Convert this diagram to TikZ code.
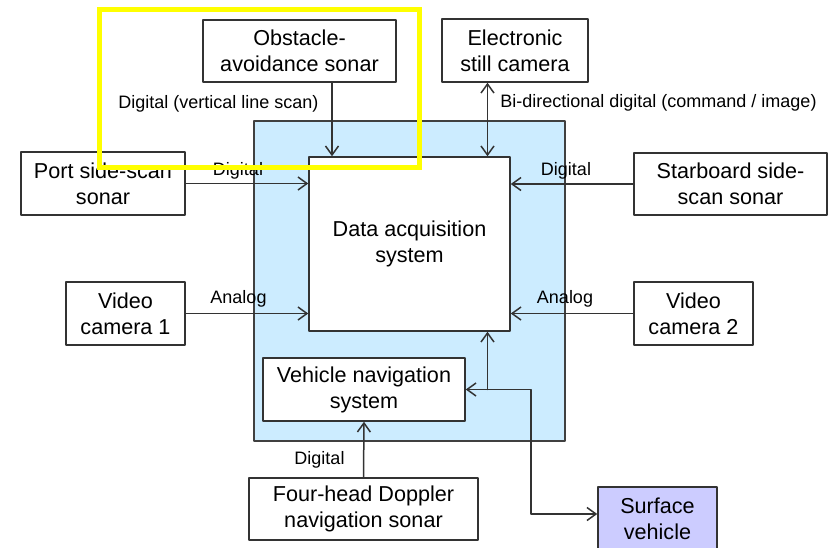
\documentclass[tikz,border=0pt]{standalone}
\usepackage{fontspec}
\setmainfont{Liberation Sans}
\usetikzlibrary{arrows.meta}

\definecolor{panelblue}{RGB}{204,236,255}
\definecolor{surfblue}{RGB}{204,204,255}
\definecolor{marker}{RGB}{255,255,0}

\begin{document}
\begin{tikzpicture}[
  x=0.5pt,y=-0.5pt,
  line cap=round,line join=round,
  box/.style={draw=black!80,line width=0.75pt,fill=white,align=center,
    inner sep=0pt,font=\fontsize{10.8}{13}\selectfont},
  lbl/.style={inner sep=0pt,anchor=base,font=\fontsize{9}{11}\selectfont},
  arr/.style={draw=black!80,line width=0.75pt,
    -{Straight Barb[length=4.5pt,width=6.5pt]}},
  darr/.style={draw=black!80,line width=0.75pt,
    {Straight Barb[length=4.5pt,width=6.5pt]}-{Straight Barb[length=4.5pt,width=6.5pt]}}
]
  \useasboundingbox (0,0) rectangle (831,547);
  \clip (0,0) rectangle (831,547);

  % Blue panel round the acquisition unit
  \draw[draw=black!75,line width=0.75pt,fill=panelblue] (254,121) rectangle (565,441);

  % Boxes
  \node[box,minimum width=100.5pt,minimum height=87pt] (daq) at (409.5,244) {Data acquisition\\system};
  \node[box,minimum width=101pt,minimum height=31.5pt] (nav) at (364,389.5) {Vehicle navigation\\system};
  \node[box,minimum width=96.5pt,minimum height=31pt] (obst) at (299.5,51) {Obstacle-\\avoidance sonar};
  \node[box,minimum width=73pt,minimum height=31.5pt] (still) at (515,50.5) {Electronic\\still camera};
  \node[box,minimum width=82pt,minimum height=31.5pt] (port) at (103,183.5) {Port side-scan\\sonar};
  \node[box,minimum width=96.5pt,minimum height=31pt] (star) at (730.5,184) {Starboard side-\\scan sonar};
  \node[box,minimum width=59.5pt,minimum height=31.5pt] (cam1) at (125.5,313.5) {Video\\camera 1};
  \node[box,minimum width=59.5pt,minimum height=31.5pt] (cam2) at (693.5,313.5) {Video\\camera 2};
  \node[box,minimum width=114.5pt,minimum height=31pt] (dopp) at (363.5,509) {Four-head Doppler\\navigation sonar};
  \node[box,fill=surfblue,minimum width=59.5pt,minimum height=31.5pt] (surf) at (657.5,518.5) {Surface\\vehicle};

  % Connector columns
  \coordinate (obstx) at (332,0);
  \coordinate (busx) at (487.5,0);
  \coordinate (turnx) at (531,0);
  \coordinate (surfy) at (0,514);

  % Connectors
  \draw[arr] (obst.south -| obstx) -- (daq.north -| obstx);
  \draw[darr] (still.south -| busx) -- (daq.north -| busx);
  \draw[arr] (port.east) -- (port.east -| daq.west);
  \draw[arr] (star.west) -- (star.west -| daq.east);
  \draw[arr] (cam1.east) -- (cam1.east -| daq.west);
  \draw[arr] (cam2.west) -- (cam2.west -| daq.east);
  \draw[arr] (dopp.north) -- (nav.south);
  \draw[arr] (nav.east -| busx) -- (daq.south -| busx);
  \draw[darr] (nav.east) -- (nav.east -| turnx) |- (surf.west |- surfy);

  % Labels
  \node[lbl] (lobst) at (218.5,108) {Digital (vertical line scan)};
  \node[lbl] (lstill) at (658.5,107) {Bi-directional digital (command / image)};
  \node[lbl] (lport) at (238,175) {Digital};
  \node[lbl] (lstar) at (566,175) {Digital};
  \node[lbl] (lcam1) at (238.5,303) {Analog};
  \node[lbl] (lcam2) at (565,303) {Analog};
  \node[lbl] (ldopp) at (319.5,464) {Digital};

  % Highlight frame
  \draw[marker,line width=2.5pt,line join=miter] (99.5,9.5) rectangle (419.5,167.5);
\end{tikzpicture}
\end{document}
